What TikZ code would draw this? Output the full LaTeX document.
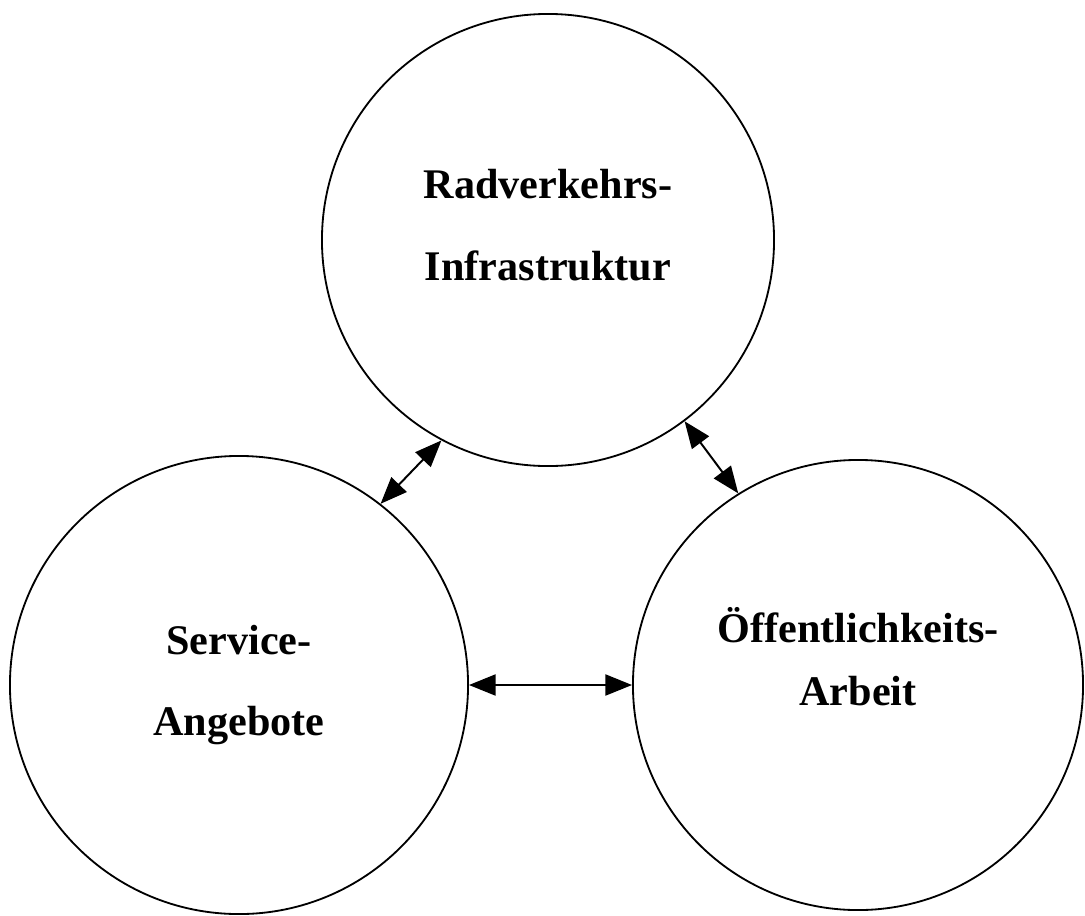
\documentclass[tikz,border=0pt]{standalone}
\usepackage{fontspec}
\setmainfont{Liberation Serif}
\usepackage{tikz}
\usetikzlibrary{arrows.meta}

\begin{document}
\begin{tikzpicture}[x=0.025cm, y=-0.025cm,
	ring/.style={circle, draw, line width=1.3pt, inner sep=0pt},
	txt/.style={align=center, font=\fontsize{30}{58}\selectfont\bfseries},
	link/.style={{Triangle[length=19pt, width=15pt]}-{Triangle[length=19pt, width=15pt]}, line width=1.4pt}]
	\useasboundingbox (0,0) rectangle (1085,915);
	% Circles
	\node[ring, minimum size=11.3cm] (infra) at (548,240) {};
	\node[ring, minimum size=11.45cm] (service) at (239,685) {};
	\node[ring, minimum size=11.25cm] (oeff) at (858,685) {};
	% Texts
	\node[txt] (infratxt) at ([yshift=0.375cm]infra.center) {Radverkehrs-\\Infrastruktur};
	\node[txt] (servicetxt) at (service.center) {Service-\\Angebote};
	\node[txt, font=\fontsize{30}{45}\selectfont\bfseries] (oefftxt) at ([yshift=0.7cm]oeff.center) {Öffentlichkeits-\\Arbeit};
	% Links
	\draw[link] (service.52) -- (infra.242);
	\draw[link] (infra.307) -- (oeff.122);
	\draw[link] (service.east) -- (oeff.west);
\end{tikzpicture}
\end{document}
